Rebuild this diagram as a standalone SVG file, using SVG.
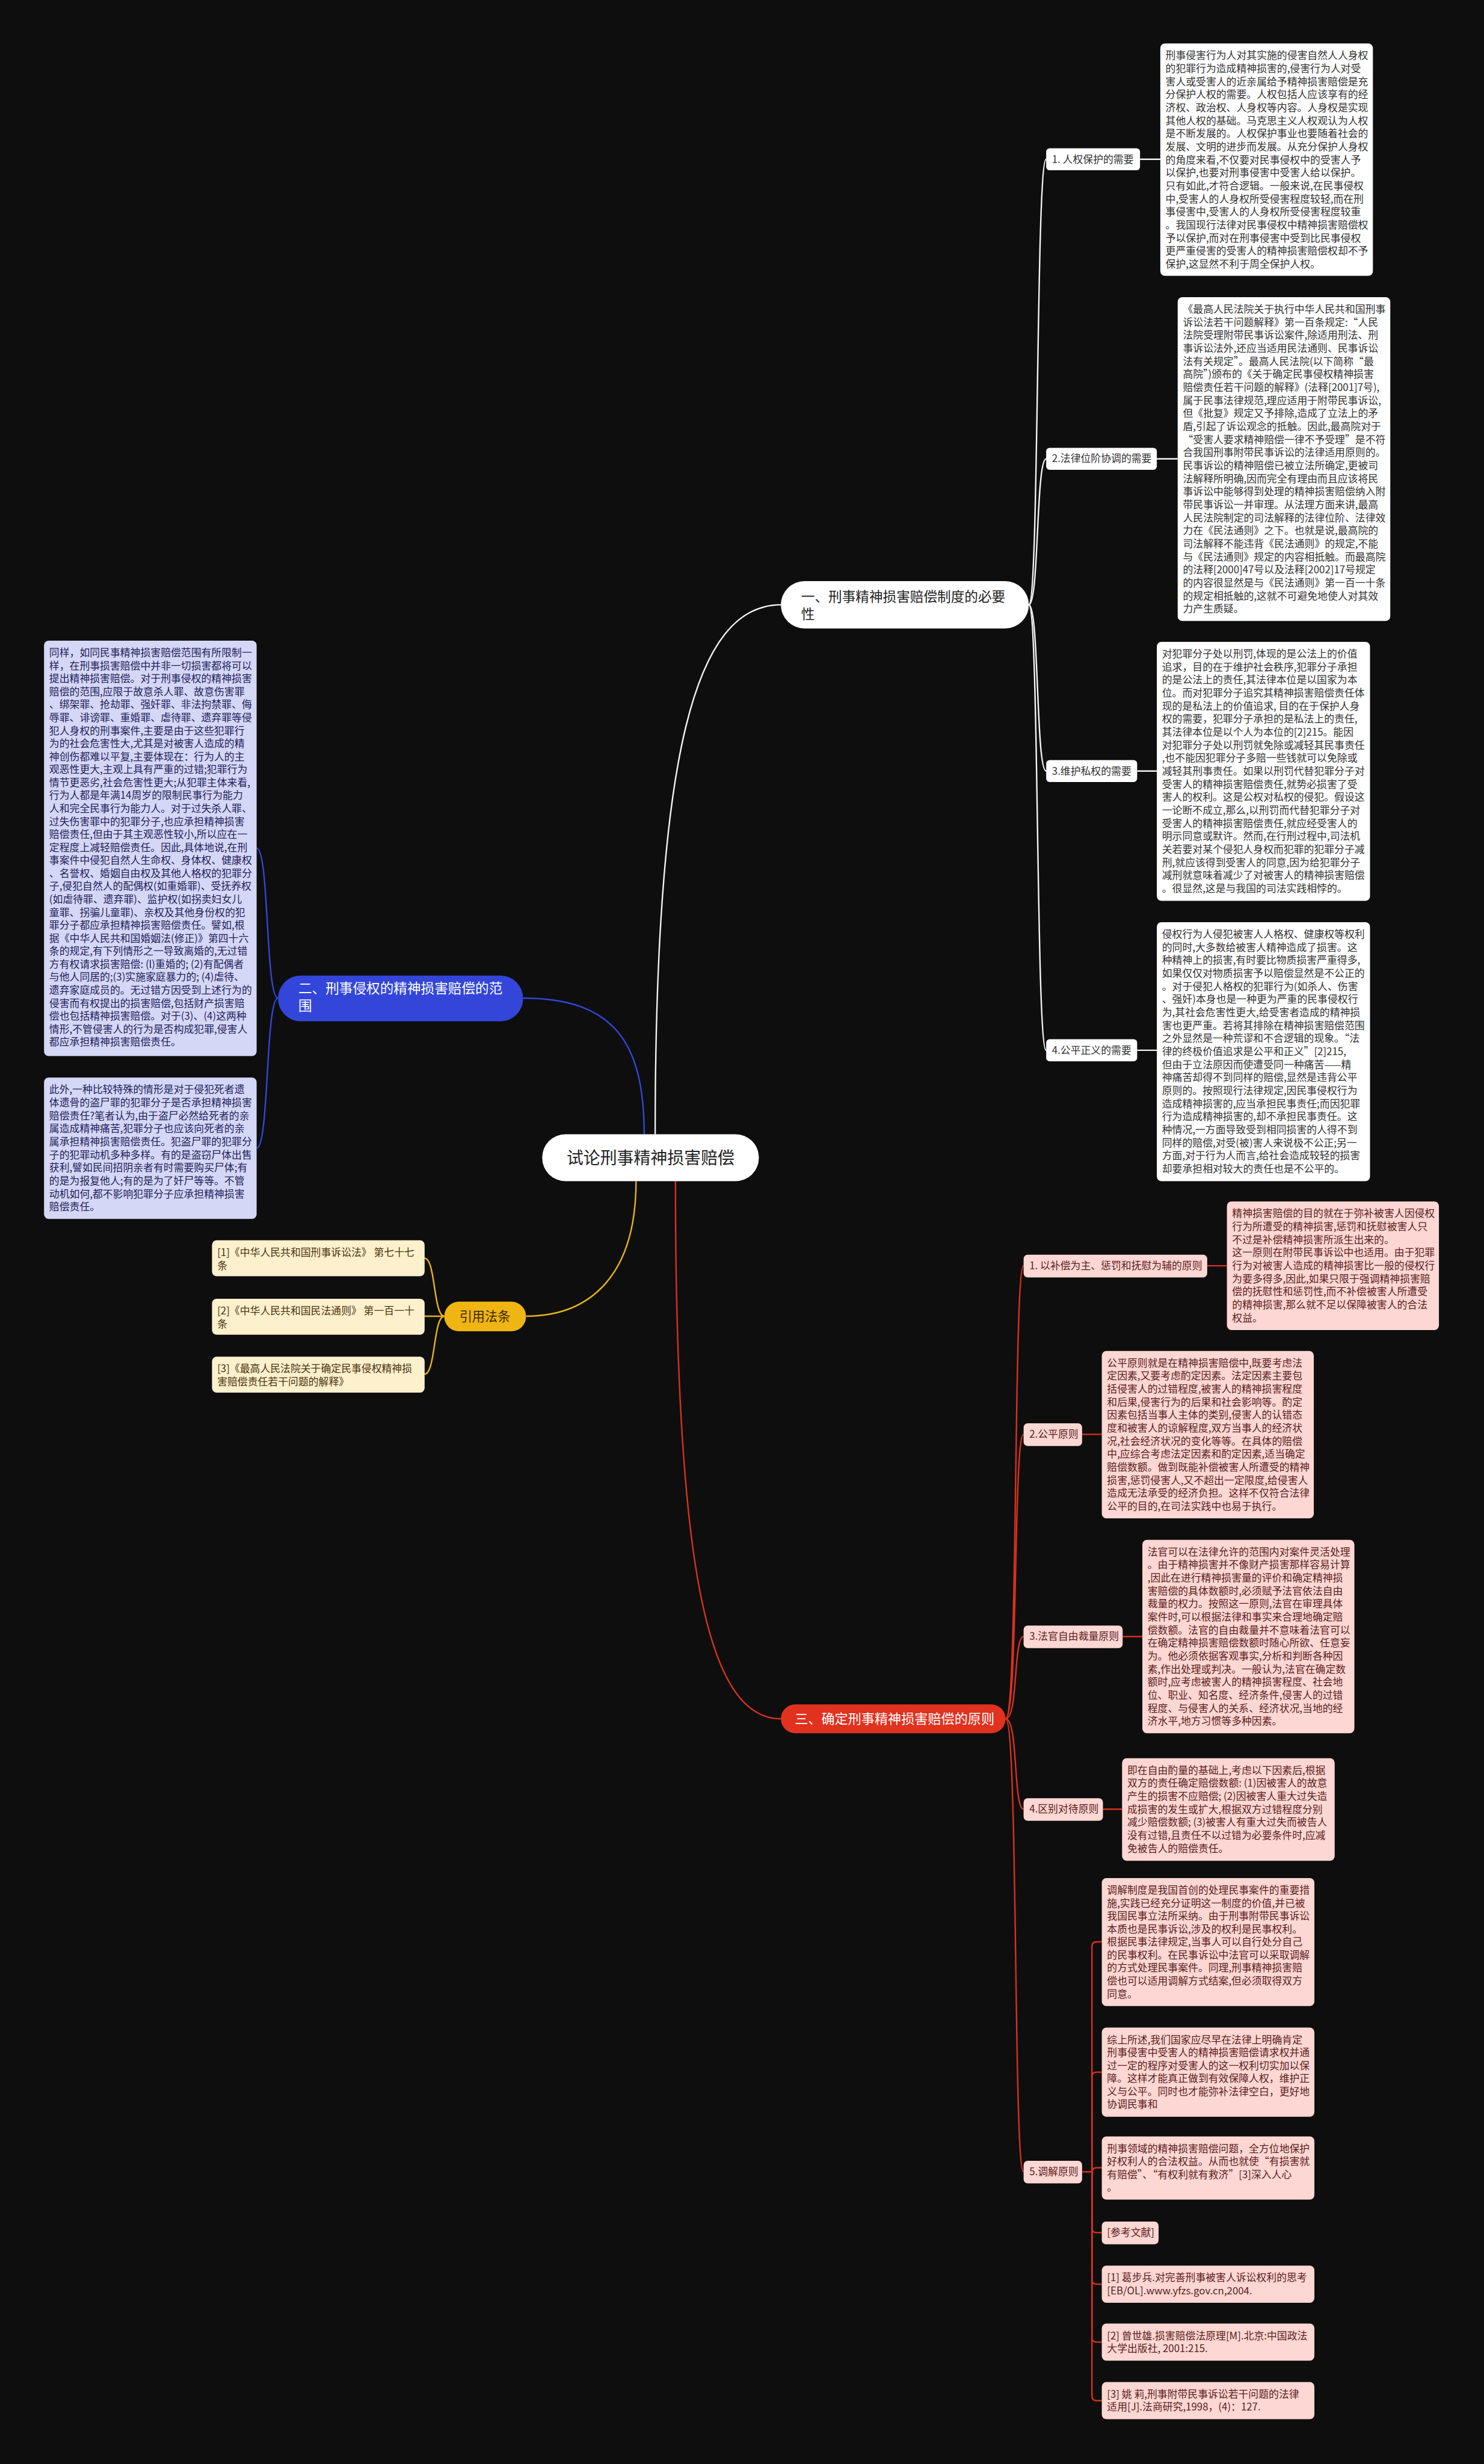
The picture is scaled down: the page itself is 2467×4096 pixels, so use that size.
<svg xmlns="http://www.w3.org/2000/svg" width="2467" height="4096" viewBox="0 0 2467 4096">
<style>
.t{font-family:"Noto Sans CJK SC","Noto Sans",sans-serif;font-size:17.5px}
.big{font-family:"Noto Sans CJK SC","Noto Sans",sans-serif}
.wb{fill:#ffffff}.wt{fill:#333333}
.lb{fill:#d5d7f6}.lt{fill:#22225a}
.cb{fill:#fdf0cc}.ct{fill:#4a3410}
.pb{fill:#fcd7d3}.pt{fill:#5b1d1d}
.cw{fill:none;stroke:#f2f2f2;stroke-width:2.5}
.cbl{fill:none;stroke:#3346d9;stroke-width:2.5}
.cg{fill:none;stroke:#e8b418;stroke-width:2.5}
.cr{fill:none;stroke:#d9321f;stroke-width:2.5}
</style>
<rect x="0" y="0" width="2467" height="4096" fill="#0e0e0e"/>
<g transform="scale(0.963)">
<g id="connectors">
<path class="cw" stroke-width="3.5" d="M1131,1958 C1131,1300 1200,1044 1348,1044"/>
<path class="cbl" stroke-width="3.5" d="M1112,1958 C1112,1800 1060,1723 903,1723"/>
<path class="cg" stroke-width="3.5" d="M1098,2039 C1098,2200 1020,2272 908,2272"/>
<path class="cr" stroke-width="3.5" d="M1166,2039 C1166,2700 1220,2967 1348,2967"/>
<path class="cw" d="M1776,1044 C1794,1044 1788,275 1806,275"/>
<path class="cw" d="M1776,1044 C1794,1044 1788,792 1806,792"/>
<path class="cw" d="M1776,1044 C1794,1044 1788,1331 1806,1331"/>
<path class="cw" d="M1776,1044 C1794,1044 1788,1813 1806,1813"/>
<path class="cw" d="M1968,275 H2003 M1997,792 H2033 M1963,1331 H1997 M1963,1813 H1997"/>
<path class="cbl" d="M480,1723 C458,1723 465,1464 443,1464"/>
<path class="cbl" d="M480,1723 C458,1723 465,1982 443,1982"/>
<path class="cg" d="M767,2272 C748,2272 752,2172 733,2172"/>
<path class="cg" d="M767,2272 H733"/>
<path class="cg" d="M767,2272 C748,2272 752,2372 733,2372"/>
<path class="cr" d="M1736,2967 C1758,2967 1749,2185 1767,2185"/>
<path class="cr" d="M1736,2967 C1758,2967 1749,2476 1767,2476"/>
<path class="cr" d="M1736,2967 C1758,2967 1749,2825 1767,2825"/>
<path class="cr" d="M1736,2967 C1758,2967 1749,3123 1767,3123"/>
<path class="cr" d="M1736,2967 C1758,2967 1749,3749 1767,3749"/>
<path class="cr" d="M2084,2185 H2118 M1868,2476 H1902 M1938,2825 H1972 M1904,3123 H1937"/>
<path class="cr" d="M1868,3749 H1885"/>
<path class="cr" d="M1885,3749 V3360 Q1885,3352 1893,3352 H1902"/>
<path class="cr" d="M1885,3749 V3585 Q1885,3577 1893,3577 H1902"/>
<path class="cr" d="M1885,3749 V3750 Q1885,3742 1893,3742 H1902"/>
<path class="cr" d="M1885,3749 V3846 Q1885,3854 1893,3854 H1902"/>
<path class="cr" d="M1885,3749 V3935 Q1885,3943 1893,3943 H1902"/>
<path class="cr" d="M1885,3749 V4035 Q1885,4043 1893,4043 H1902"/>
<path class="cr" d="M1885,3749 V4136 Q1885,4144 1893,4144 H1902"/>
</g>

<g id="root">
<rect x="936" y="1958" width="374" height="81" rx="40" fill="#ffffff"/>
<text class="big" x="1123" y="2009" style="font-size:29px" text-anchor="middle" fill="#222">试论刑事精神损害赔偿</text>
</g>

<g id="branch1">
<rect x="1348" y="1003" width="428" height="82" rx="41" fill="#ffffff"/>
<text class="big" style="font-size:23.5px" fill="#222"><tspan x="1383" y="1038">一、刑事精神损害赔偿制度的必要</tspan><tspan x="1383" y="1069">性</tspan></text>
</g>
<g id="b1-l1"><rect x="1806" y="256" width="162" height="38" rx="6" class="wb"/><text class="t wt" x="1816" y="281">1. 人权保护的需要</text></g>
<g id="b1-l2"><rect x="1806" y="773" width="191" height="38" rx="6" class="wb"/><text class="t wt" x="1816" y="798">2.法律位阶协调的需要</text></g>
<g id="b1-l3"><rect x="1806" y="1312" width="157" height="38" rx="6" class="wb"/><text class="t wt" x="1816" y="1337">3.维护私权的需要</text></g>
<g id="b1-l4"><rect x="1806" y="1794" width="157" height="38" rx="6" class="wb"/><text class="t wt" x="1816" y="1819">4.公平正义的需要</text></g>

<g id="b1-box1"><rect x="2003" y="75" width="367" height="401" rx="8" class="wb"/>
<text class="t wt"><tspan x="2012" y="102">刑事侵害行为人对其实施的侵害自然人人身权</tspan><tspan x="2012" dy="22.5">的犯罪行为造成精神损害的,侵害行为人对受</tspan><tspan x="2012" dy="22.5">害人或受害人的近亲属给予精神损害赔偿是充</tspan><tspan x="2012" dy="22.5">分保护人权的需要。人权包括人应该享有的经</tspan><tspan x="2012" dy="22.5">济权、政治权、人身权等内容。人身权是实现</tspan><tspan x="2012" dy="22.5">其他人权的基础。马克思主义人权观认为人权</tspan><tspan x="2012" dy="22.5">是不断发展的。人权保护事业也要随着社会的</tspan><tspan x="2012" dy="22.5">发展、文明的进步而发展。从充分保护人身权</tspan><tspan x="2012" dy="22.5">的角度来看,不仅要对民事侵权中的受害人予</tspan><tspan x="2012" dy="22.5">以保护,也要对刑事侵害中受害人给以保护。</tspan><tspan x="2012" dy="22.5">只有如此,才符合逻辑。一般来说,在民事侵权</tspan><tspan x="2012" dy="22.5">中,受害人的人身权所受侵害程度较轻,而在刑</tspan><tspan x="2012" dy="22.5">事侵害中,受害人的人身权所受侵害程度较重</tspan><tspan x="2012" dy="22.5">。我国现行法律对民事侵权中精神损害赔偿权</tspan><tspan x="2012" dy="22.5">予以保护,而对在刑事侵害中受到比民事侵权</tspan><tspan x="2012" dy="22.5">更严重侵害的受害人的精神损害赔偿权却不予</tspan><tspan x="2012" dy="22.5">保护,这显然不利于周全保护人权。</tspan></text></g>

<g id="b1-box2"><rect x="2033" y="513" width="367" height="559" rx="8" class="wb"/>
<text class="t wt"><tspan x="2042" y="540">《最高人民法院关于执行中华人民共和国刑事</tspan><tspan x="2042" dy="22.5">诉讼法若干问题解释》第一百条规定:“人民</tspan><tspan x="2042" dy="22.5">法院受理附带民事诉讼案件,除适用刑法、刑</tspan><tspan x="2042" dy="22.5">事诉讼法外,还应当适用民法通则、民事诉讼</tspan><tspan x="2042" dy="22.5">法有关规定”。最高人民法院(以下简称“最</tspan><tspan x="2042" dy="22.5">高院”)颁布的《关于确定民事侵权精神损害</tspan><tspan x="2042" dy="22.5">赔偿责任若干问题的解释》(法释[2001]7号),</tspan><tspan x="2042" dy="22.5">属于民事法律规范,理应适用于附带民事诉讼,</tspan><tspan x="2042" dy="22.5">但《批复》规定又予排除,造成了立法上的矛</tspan><tspan x="2042" dy="22.5">盾,引起了诉讼观念的抵触。因此,最高院对于</tspan><tspan x="2042" dy="22.5">“受害人要求精神赔偿一律不予受理”是不符</tspan><tspan x="2042" dy="22.5">合我国刑事附带民事诉讼的法律适用原则的。</tspan><tspan x="2042" dy="22.5">民事诉讼的精神赔偿已被立法所确定,更被司</tspan><tspan x="2042" dy="22.5">法解释所明确,因而完全有理由而且应该将民</tspan><tspan x="2042" dy="22.5">事诉讼中能够得到处理的精神损害赔偿纳入附</tspan><tspan x="2042" dy="22.5">带民事诉讼一并审理。从法理方面来讲,最高</tspan><tspan x="2042" dy="22.5">人民法院制定的司法解释的法律位阶、法律效</tspan><tspan x="2042" dy="22.5">力在《民法通则》之下。也就是说,最高院的</tspan><tspan x="2042" dy="22.5">司法解释不能违背《民法通则》的规定,不能</tspan><tspan x="2042" dy="22.5">与《民法通则》规定的内容相抵触。而最高院</tspan><tspan x="2042" dy="22.5">的法释[2000]47号以及法释[2002]17号规定</tspan><tspan x="2042" dy="22.5">的内容很显然是与《民法通则》第一百一十条</tspan><tspan x="2042" dy="22.5">的规定相抵触的,这就不可避免地使人对其效</tspan><tspan x="2042" dy="22.5">力产生质疑。</tspan></text></g>

<g id="b1-box3"><rect x="1997" y="1108" width="368" height="447" rx="8" class="wb"/>
<text class="t wt"><tspan x="2006" y="1135">对犯罪分子处以刑罚,体现的是公法上的价值</tspan><tspan x="2006" dy="22.5">追求，目的在于维护社会秩序,犯罪分子承担</tspan><tspan x="2006" dy="22.5">的是公法上的责任,其法律本位是以国家为本</tspan><tspan x="2006" dy="22.5">位。而对犯罪分子追究其精神损害赔偿责任体</tspan><tspan x="2006" dy="22.5">现的是私法上的价值追求, 目的在于保护人身</tspan><tspan x="2006" dy="22.5">权的需要，犯罪分子承担的是私法上的责任,</tspan><tspan x="2006" dy="22.5">其法律本位是以个人为本位的[2]215。能因</tspan><tspan x="2006" dy="22.5">对犯罪分子处以刑罚就免除或减轻其民事责任</tspan><tspan x="2006" dy="22.5">,也不能因犯罪分子多赔一些钱就可以免除或</tspan><tspan x="2006" dy="22.5">减轻其刑事责任。如果以刑罚代替犯罪分子对</tspan><tspan x="2006" dy="22.5">受害人的精神损害赔偿责任,就势必损害了受</tspan><tspan x="2006" dy="22.5">害人的权利。这是公权对私权的侵犯。假设这</tspan><tspan x="2006" dy="22.5">一论断不成立,那么,以刑罚而代替犯罪分子对</tspan><tspan x="2006" dy="22.5">受害人的精神损害赔偿责任,就应经受害人的</tspan><tspan x="2006" dy="22.5">明示同意或默许。然而,在行刑过程中,司法机</tspan><tspan x="2006" dy="22.5">关若要对某个侵犯人身权而犯罪的犯罪分子减</tspan><tspan x="2006" dy="22.5">刑,就应该得到受害人的同意,因为给犯罪分子</tspan><tspan x="2006" dy="22.5">减刑就意味着减少了对被害人的精神损害赔偿</tspan><tspan x="2006" dy="22.5">。很显然,这是与我国的司法实践相悖的。</tspan></text></g>

<g id="b1-box4"><rect x="1997" y="1592" width="368" height="447" rx="8" class="wb"/>
<text class="t wt"><tspan x="2006" y="1619">侵权行为人侵犯被害人人格权、健康权等权利</tspan><tspan x="2006" dy="22.5">的同时,大多数给被害人精神造成了损害。这</tspan><tspan x="2006" dy="22.5">种精神上的损害,有时要比物质损害严重得多,</tspan><tspan x="2006" dy="22.5">如果仅仅对物质损害予以赔偿显然是不公正的</tspan><tspan x="2006" dy="22.5">。对于侵犯人格权的犯罪行为(如杀人、伤害</tspan><tspan x="2006" dy="22.5">、强奸)本身也是一种更为严重的民事侵权行</tspan><tspan x="2006" dy="22.5">为,其社会危害性更大,给受害者造成的精神损</tspan><tspan x="2006" dy="22.5">害也更严重。若将其排除在精神损害赔偿范围</tspan><tspan x="2006" dy="22.5">之外显然是一种荒谬和不合逻辑的现象。“法</tspan><tspan x="2006" dy="22.5">律的终极价值追求是公平和正义”[2]215,</tspan><tspan x="2006" dy="22.5">但由于立法原因而使遭受同一种痛苦——精</tspan><tspan x="2006" dy="22.5">神痛苦却得不到同样的赔偿,显然是违背公平</tspan><tspan x="2006" dy="22.5">原则的。按照现行法律规定,因民事侵权行为</tspan><tspan x="2006" dy="22.5">造成精神损害的,应当承担民事责任;而因犯罪</tspan><tspan x="2006" dy="22.5">行为造成精神损害的,却不承担民事责任。这</tspan><tspan x="2006" dy="22.5">种情况,一方面导致受到相同损害的人得不到</tspan><tspan x="2006" dy="22.5">同样的赔偿,对受(被)害人来说极不公正;另一</tspan><tspan x="2006" dy="22.5">方面,对于行为人而言,给社会造成较轻的损害</tspan><tspan x="2006" dy="22.5">却要承担相对较大的责任也是不公平的。</tspan></text></g>

<g id="branch2">
<rect x="480" y="1684" width="423" height="79" rx="39" fill="#3346d9"/>
<text class="big" style="font-size:23.5px" fill="#ffffff"><tspan x="515" y="1714">二、刑事侵权的精神损害赔偿的范</tspan><tspan x="515" y="1745">围</tspan></text>
</g>
<g id="b2-box1"><rect x="76" y="1106" width="367" height="717" rx="8" class="lb"/>
<text class="t lt"><tspan x="85" y="1133">同样，如同民事精神损害赔偿范围有所限制一</tspan><tspan x="85" dy="22.4">样，在刑事损害赔偿中并非一切损害都将可以</tspan><tspan x="85" dy="22.4">提出精神损害赔偿。对于刑事侵权的精神损害</tspan><tspan x="85" dy="22.4">赔偿的范围,应限于故意杀人罪、故意伤害罪</tspan><tspan x="85" dy="22.4">、绑架罪、抢劫罪、强奸罪、非法拘禁罪、侮</tspan><tspan x="85" dy="22.4">辱罪、诽谤罪、重婚罪、虐待罪、遗弃罪等侵</tspan><tspan x="85" dy="22.4">犯人身权的刑事案件,主要是由于这些犯罪行</tspan><tspan x="85" dy="22.4">为的社会危害性大,尤其是对被害人造成的精</tspan><tspan x="85" dy="22.4">神创伤都难以平复,主要体现在：行为人的主</tspan><tspan x="85" dy="22.4">观恶性更大,主观上具有严重的过错;犯罪行为</tspan><tspan x="85" dy="22.4">情节更恶劣,社会危害性更大;从犯罪主体来看,</tspan><tspan x="85" dy="22.4">行为人都是年满14周岁的限制民事行为能力</tspan><tspan x="85" dy="22.4">人和完全民事行为能力人。对于过失杀人罪、</tspan><tspan x="85" dy="22.4">过失伤害罪中的犯罪分子,也应承担精神损害</tspan><tspan x="85" dy="22.4">赔偿责任,但由于其主观恶性较小,所以应在一</tspan><tspan x="85" dy="22.4">定程度上减轻赔偿责任。因此,具体地说,在刑</tspan><tspan x="85" dy="22.4">事案件中侵犯自然人生命权、身体权、健康权</tspan><tspan x="85" dy="22.4">、名誉权、婚姻自由权及其他人格权的犯罪分</tspan><tspan x="85" dy="22.4">子,侵犯自然人的配偶权(如重婚罪)、受抚养权</tspan><tspan x="85" dy="22.4">(如虐待罪、遗弃罪)、监护权(如拐卖妇女儿</tspan><tspan x="85" dy="22.4">童罪、拐骗儿童罪)、亲权及其他身份权的犯</tspan><tspan x="85" dy="22.4">罪分子都应承担精神损害赔偿责任。譬如,根</tspan><tspan x="85" dy="22.4">据《中华人民共和国婚姻法(修正)》第四十六</tspan><tspan x="85" dy="22.4">条的规定,有下列情形之一导致离婚的,无过错</tspan><tspan x="85" dy="22.4">方有权请求损害赔偿: (l)重婚的; (2)有配偶者</tspan><tspan x="85" dy="22.4">与他人同居的;(3)实施家庭暴力的; (4)虐待、</tspan><tspan x="85" dy="22.4">遗弃家庭成员的。无过错方因受到上述行为的</tspan><tspan x="85" dy="22.4">侵害而有权提出的损害赔偿,包括财产损害赔</tspan><tspan x="85" dy="22.4">偿也包括精神损害赔偿。对于(3)、(4)这两种</tspan><tspan x="85" dy="22.4">情形,不管侵害人的行为是否构成犯罪,侵害人</tspan><tspan x="85" dy="22.4">都应承担精神损害赔偿责任。</tspan></text></g>
<g id="b2-box2"><rect x="76" y="1860" width="367" height="244" rx="8" class="lb"/>
<text class="t lt"><tspan x="85" y="1887">此外,一种比较特殊的情形是对于侵犯死者遗</tspan><tspan x="85" dy="22.5">体遗骨的盗尸罪的犯罪分子是否承担精神损害</tspan><tspan x="85" dy="22.5">赔偿责任?笔者认为,由于盗尸必然给死者的亲</tspan><tspan x="85" dy="22.5">属造成精神痛苦,犯罪分子也应该向死者的亲</tspan><tspan x="85" dy="22.5">属承担精神损害赔偿责任。犯盗尸罪的犯罪分</tspan><tspan x="85" dy="22.5">子的犯罪动机多种多样。有的是盗窃尸体出售</tspan><tspan x="85" dy="22.5">获利,譬如民间招阴亲者有时需要购买尸体;有</tspan><tspan x="85" dy="22.5">的是为报复他人;有的是为了奸尸等等。不管</tspan><tspan x="85" dy="22.5">动机如何,都不影响犯罪分子应承担精神损害</tspan><tspan x="85" dy="22.5">赔偿责任。</tspan></text></g>

<g id="branch3">
<rect x="767" y="2247" width="141" height="51" rx="25" fill="#efb513"/>
<text class="big" x="837" y="2280" style="font-size:22px" text-anchor="middle" fill="#3b2800">引用法条</text>
</g>
<g id="b3-r1"><rect x="366" y="2141" width="367" height="62" rx="8" class="cb"/><text class="t ct"><tspan x="375" y="2168">[1]《中华人民共和国刑事诉讼法》 第七十七</tspan><tspan x="375" dy="23">条</tspan></text></g>
<g id="b3-r2"><rect x="366" y="2242" width="367" height="62" rx="8" class="cb"/><text class="t ct"><tspan x="375" y="2269">[2]《中华人民共和国民法通则》 第一百一十</tspan><tspan x="375" dy="23">条</tspan></text></g>
<g id="b3-r3"><rect x="366" y="2342" width="367" height="62" rx="8" class="cb"/><text class="t ct"><tspan x="375" y="2369">[3]《最高人民法院关于确定民事侵权精神损</tspan><tspan x="375" dy="23">害赔偿责任若干问题的解释》</tspan></text></g>

<g id="branch4">
<rect x="1348" y="2942" width="388" height="50" rx="25" fill="#e0321f"/>
<text class="big" x="1372" y="2975" style="font-size:23px" fill="#ffffff">三、确定刑事精神损害赔偿的原则</text>
</g>
<g id="b4-l1"><rect x="1767" y="2166" width="317" height="39" rx="7" class="pb"/><text class="t pt" x="1777" y="2191">1. 以补偿为主、惩罚和抚慰为辅的原则</text></g>
<g id="b4-l2"><rect x="1767" y="2457" width="101" height="39" rx="7" class="pb"/><text class="t pt" x="1777" y="2482">2.公平原则</text></g>
<g id="b4-l3"><rect x="1767" y="2806" width="171" height="39" rx="7" class="pb"/><text class="t pt" x="1777" y="2831">3.法官自由裁量原则</text></g>
<g id="b4-l4"><rect x="1767" y="3104" width="137" height="39" rx="7" class="pb"/><text class="t pt" x="1777" y="3129">4.区别对待原则</text></g>
<g id="b4-l5"><rect x="1767" y="3730" width="101" height="39" rx="7" class="pb"/><text class="t pt" x="1777" y="3755">5.调解原则</text></g>

<g id="b4-p1"><rect x="2118" y="2074" width="366" height="222" rx="8" class="pb"/>
<text class="t pt"><tspan x="2127" y="2101">精神损害赔偿的目的就在于弥补被害人因侵权</tspan><tspan x="2127" dy="22.5">行为所遭受的精神损害,惩罚和抚慰被害人只</tspan><tspan x="2127" dy="22.5">不过是补偿精神损害所派生出来的。</tspan><tspan x="2127" dy="22.5">这一原则在附带民事诉讼中也适用。由于犯罪</tspan><tspan x="2127" dy="22.5">行为对被害人造成的精神损害比一般的侵权行</tspan><tspan x="2127" dy="22.5">为要多得多,因此,如果只限于强调精神损害赔</tspan><tspan x="2127" dy="22.5">偿的抚慰性和惩罚性,而不补偿被害人所遭受</tspan><tspan x="2127" dy="22.5">的精神损害,那么就不足以保障被害人的合法</tspan><tspan x="2127" dy="22.5">权益。</tspan></text></g>

<g id="b4-p2"><rect x="1902" y="2332" width="366" height="289" rx="8" class="pb"/>
<text class="t pt"><tspan x="1911" y="2359">公平原则就是在精神损害赔偿中,既要考虑法</tspan><tspan x="1911" dy="22.5">定因素,又要考虑酌定因素。法定因素主要包</tspan><tspan x="1911" dy="22.5">括侵害人的过错程度,被害人的精神损害程度</tspan><tspan x="1911" dy="22.5">和后果,侵害行为的后果和社会影响等。酌定</tspan><tspan x="1911" dy="22.5">因素包括当事人主体的类别,侵害人的认错态</tspan><tspan x="1911" dy="22.5">度和被害人的谅解程度,双方当事人的经济状</tspan><tspan x="1911" dy="22.5">况,社会经济状况的变化等等。在具体的赔偿</tspan><tspan x="1911" dy="22.5">中,应综合考虑法定因素和酌定因素,适当确定</tspan><tspan x="1911" dy="22.5">赔偿数额。做到既能补偿被害人所遭受的精神</tspan><tspan x="1911" dy="22.5">损害,惩罚侵害人,又不超出一定限度,给侵害人</tspan><tspan x="1911" dy="22.5">造成无法承受的经济负担。这样不仅符合法律</tspan><tspan x="1911" dy="22.5">公平的目的,在司法实践中也易于执行。</tspan></text></g>

<g id="b4-p3"><rect x="1972" y="2658" width="366" height="334" rx="8" class="pb"/>
<text class="t pt"><tspan x="1981" y="2685">法官可以在法律允许的范围内对案件灵活处理</tspan><tspan x="1981" dy="22.5">。由于精神损害并不像财产损害那样容易计算</tspan><tspan x="1981" dy="22.5">,因此在进行精神损害量的评价和确定精神损</tspan><tspan x="1981" dy="22.5">害赔偿的具体数额时,必须赋予法官依法自由</tspan><tspan x="1981" dy="22.5">裁量的权力。按照这一原则,法官在审理具体</tspan><tspan x="1981" dy="22.5">案件时,可以根据法律和事实来合理地确定赔</tspan><tspan x="1981" dy="22.5">偿数额。法官的自由裁量并不意味着法官可以</tspan><tspan x="1981" dy="22.5">在确定精神损害赔偿数额时随心所欲、任意妄</tspan><tspan x="1981" dy="22.5">为。他必须依据客观事实,分析和判断各种因</tspan><tspan x="1981" dy="22.5">素,作出处理或判决。一般认为,法官在确定数</tspan><tspan x="1981" dy="22.5">额时,应考虑被害人的精神损害程度、社会地</tspan><tspan x="1981" dy="22.5">位、职业、知名度、经济条件,侵害人的过错</tspan><tspan x="1981" dy="22.5">程度、与侵害人的关系、经济状况,当地的经</tspan><tspan x="1981" dy="22.5">济水平,地方习惯等多种因素。</tspan></text></g>

<g id="b4-p4"><rect x="1937" y="3035" width="367" height="177" rx="8" class="pb"/>
<text class="t pt"><tspan x="1946" y="3062">即在自由酌量的基础上,考虑以下因素后,根据</tspan><tspan x="1946" dy="22.5">双方的责任确定赔偿数额: (1)因被害人的故意</tspan><tspan x="1946" dy="22.5">产生的损害不应赔偿; (2)因被害人重大过失造</tspan><tspan x="1946" dy="22.5">成损害的发生或扩大,根据双方过错程度分别</tspan><tspan x="1946" dy="22.5">减少赔偿数额; (3)被害人有重大过失而被告人</tspan><tspan x="1946" dy="22.5">没有过错,且责任不以过错为必要条件时,应减</tspan><tspan x="1946" dy="22.5">免被告人的赔偿责任。</tspan></text></g>

<g id="b4-p5a"><rect x="1902" y="3242" width="367" height="221" rx="8" class="pb"/>
<text class="t pt"><tspan x="1911" y="3269">调解制度是我国首创的处理民事案件的重要措</tspan><tspan x="1911" dy="22.4">施,实践已经充分证明这一制度的价值,并已被</tspan><tspan x="1911" dy="22.4">我国民事立法所采纳。由于刑事附带民事诉讼</tspan><tspan x="1911" dy="22.4">本质也是民事诉讼,涉及的权利是民事权利。</tspan><tspan x="1911" dy="22.4">根据民事法律规定,当事人可以自行处分自己</tspan><tspan x="1911" dy="22.4">的民事权利。在民事诉讼中法官可以采取调解</tspan><tspan x="1911" dy="22.4">的方式处理民事案件。同理,刑事精神损害赔</tspan><tspan x="1911" dy="22.4">偿也可以适用调解方式结案,但必须取得双方</tspan><tspan x="1911" dy="22.4">同意。</tspan></text></g>
<g id="b4-p5b"><rect x="1902" y="3500" width="367" height="154" rx="8" class="pb"/>
<text class="t pt"><tspan x="1911" y="3527">综上所述,我们国家应尽早在法律上明确肯定</tspan><tspan x="1911" dy="22.4">刑事侵害中受害人的精神损害赔偿请求权并通</tspan><tspan x="1911" dy="22.4">过一定的程序对受害人的这一权利切实加以保</tspan><tspan x="1911" dy="22.4">障。这样才能真正做到有效保障人权，维护正</tspan><tspan x="1911" dy="22.4">义与公平。同时也才能弥补法律空白，更好地</tspan><tspan x="1911" dy="22.4">协调民事和</tspan></text></g>
<g id="b4-p5c"><rect x="1902" y="3688" width="367" height="109" rx="8" class="pb"/>
<text class="t pt"><tspan x="1911" y="3715">刑事领域的精神损害赔偿问题，全方位地保护</tspan><tspan x="1911" dy="22.4">好权利人的合法权益。从而也就使“有损害就</tspan><tspan x="1911" dy="22.4">有赔偿”、“有权利就有救济”[3]深入人心</tspan><tspan x="1911" dy="22.4">。</tspan></text></g>
<g id="b4-p5d"><rect x="1902" y="3835" width="98" height="39" rx="7" class="pb"/><text class="t pt" x="1911" y="3860">[参考文献]</text></g>
<g id="b4-p5e"><rect x="1902" y="3911" width="367" height="64" rx="8" class="pb"/>
<text class="t pt"><tspan x="1911" y="3938">[1] 葛步兵.对完善刑事被害人诉讼权利的思考</tspan><tspan x="1911" dy="22.4">[EB/OL].www.yfzs.gov.cn,2004.</tspan></text></g>
<g id="b4-p5f"><rect x="1902" y="4011" width="367" height="64" rx="8" class="pb"/>
<text class="t pt"><tspan x="1911" y="4038">[2] 曾世雄.损害赔偿法原理[M].北京:中国政法</tspan><tspan x="1911" dy="22.4">大学出版社, 2001:215.</tspan></text></g>
<g id="b4-p5g"><rect x="1902" y="4112" width="367" height="64" rx="8" class="pb"/>
<text class="t pt"><tspan x="1911" y="4139">[3] 姚 莉,刑事附带民事诉讼若干问题的法律</tspan><tspan x="1911" dy="22.4">适用[J].法商研究,1998，(4)：127.</tspan></text></g>
</g>
</svg>
